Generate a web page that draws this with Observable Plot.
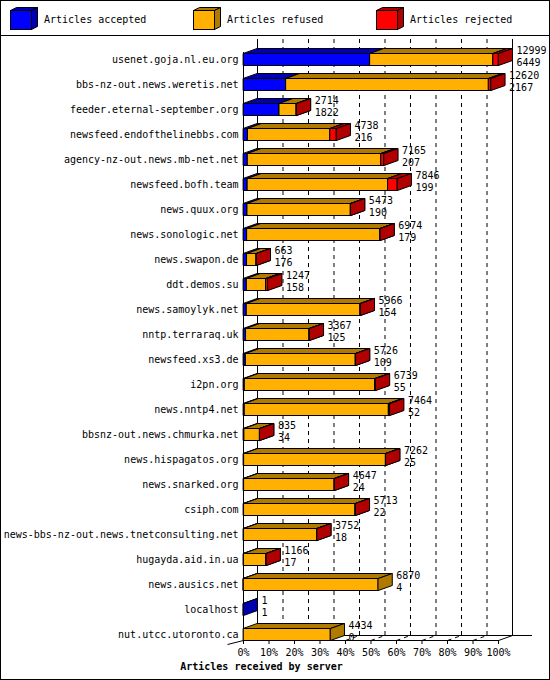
<!DOCTYPE html>
<html>
<head>
<meta charset="utf-8">
<script src="https://cdn.jsdelivr.net/npm/d3@7"></script>
<script src="https://cdn.jsdelivr.net/npm/@observablehq/plot@0.6"></script>
<style>
  html, body { margin: 0; padding: 0; background: #fff; }
  #page { position: relative; width: 550px; height: 680px; overflow: hidden; background: #fff;
          font-family: "DejaVu Sans Mono", monospace; font-size: 10px; }
  #frame { position: absolute; left: 0; top: 0; width: 550px; height: 680px; box-sizing: border-box;
           border: 1px solid #000; pointer-events: none; z-index: 5; }
  #legend { position: absolute; left: 0; top: 0; width: 550px; height: 35px; border-bottom: 1px solid #000; }
  .item { position: absolute; top: 0; height: 35px; }
  .item svg { position: absolute; top: 6px; }
  .item span { position: absolute; top: 14px; line-height: 12px; white-space: nowrap; color: #000; }
  #chart { position: absolute; left: 0; top: 36px; }
</style>
</head>
<body>
<div id="page">
  <div id="legend"></div>
  <div id="chart"></div>
  <div id="frame"></div>
</div>
<script>
// ---- data ----
const hosts = [
  "usenet.goja.nl.eu.org", "bbs-nz-out.news.weretis.net", "feeder.eternal-september.org",
  "newsfeed.endofthelinebbs.com", "agency-nz-out.news.mb-net.net", "newsfeed.bofh.team",
  "news.quux.org", "news.sonologic.net", "news.swapon.de", "ddt.demos.su",
  "news.samoylyk.net", "nntp.terraraq.uk", "newsfeed.xs3.de", "i2pn.org", "news.nntp4.net",
  "bbsnz-out.news.chmurka.net", "news.hispagatos.org", "news.snarked.org", "csiph.com",
  "news-bbs-nz-out.news.tnetconsulting.net", "hugayda.aid.in.ua", "news.ausics.net",
  "localhost", "nut.utcc.utoronto.ca"
];
const offered  = [12999, 12620, 2714, 4738, 7165, 7846, 5473, 6974, 663, 1247, 5966, 3367, 5726, 6739, 7464, 835, 7262, 4647, 5713, 3752, 1166, 6870, 1, 4434];
const accepted = [6449, 2167, 1822, 216, 207, 199, 190, 179, 176, 158, 154, 125, 109, 55, 52, 34, 25, 24, 22, 18, 17, 4, 1, 0];
const refused  = [6280, 10333, 877, 4202, 6808, 7167, 5273, 6785, 482, 989, 5802, 3232, 5607, 6654, 7352, 796, 7227, 4613, 5681, 3724, 1144, 6866, 0, 4434];
const rejected = [270, 120, 15, 320, 150, 480, 10, 10, 5, 100, 10, 10, 10, 30, 60, 5, 10, 10, 10, 10, 5, 0, 0, 0];
const seriesNames = ["Articles accepted", "Articles refused", "Articles rejected"];
const tickValues = [0, 10, 20, 30, 40, 50, 60, 70, 80, 90, 100];
const tickLabels = ["0%", "10%", "20%", "30%", "40%", "50%", "60%", "70%", "80%", "90%", "100%"];
const axisTitle = "Articles received by server";

// ---- styles / geometry ----
const front = ["#0000ff", "#ffb000", "#ff0000"];
const shade = ["#0000b0", "#b07900", "#b00000"];
const FONT = "DejaVu Sans Mono";
const TOP = 36;                 // svg offset below legend
const X0 = 243, X100 = 498;     // page px of 0% / 100%
const Y0 = 59, ROWH = 25;       // page px of first row center, row pitch
const DXP = 14, DYP = 5, HP = 6;
const pct = p => (p - X0) / (X100 - X0) * 100;   // page px -> percent
const row = p => (p - Y0) / ROWH;                // page px -> row
const dX = DXP / (X100 - X0) * 100, dY = DYP / ROWH, hH = HP / ROWH;
const maxV = d3.max(offered);

// ---- legend ----
const legend = document.getElementById("legend");
const legendX = [10, 193, 376];
seriesNames.forEach((name, k) => {
  const it = document.createElement("div");
  it.className = "item";
  it.style.left = (legendX[k] - 1) + "px";
  it.innerHTML =
    `<svg width="32" height="26" style="left:0">
      <polygon points="1.5,4.5 22.5,4.5 28.5,1.5 7.5,1.5" fill="${shade[k]}" stroke="#000"/>
      <polygon points="22.5,4.5 28.5,1.5 28.5,20.5 22.5,23.5" fill="${shade[k]}" stroke="#000"/>
      <rect x="1.5" y="4.5" width="21" height="19" fill="${front[k]}" stroke="#000"/>
    </svg><span style="left:35px">${name}</span>`;
  legend.appendChild(it);
});

// ---- polygons for 3D bars ----
const polys = [];
function push(id, fill, pts) { pts.forEach(([x, y]) => polys.push({id, fill, x, y})); }
hosts.forEach((h, i) => {
  const vals = [accepted[i], refused[i], rejected[i]];
  let cum = 0;
  vals.forEach((v, k) => {
    if (v <= 0) return;
    const a = cum / maxV * 100, b = (cum + v) / maxV * 100;
    cum += v;
    const t = i - hH, bo = i + hH;
    push(`${i}-${k}-f`, front[k], [[a, bo], [b, bo], [b, t], [a, t]]);
    push(`${i}-${k}-t`, shade[k], [[a, t], [b, t], [b + dX, t - dY], [a + dX, t - dY]]);
    push(`${i}-${k}-r`, shade[k], [[b, t], [b + dX, t - dY], [b + dX, bo - dY], [b, bo]]);
  });
});

const rows = hosts.map((h, i) => ({h, i, tot: offered[i] / maxV * 100, off: offered[i], acc: accepted[i]}));
const grid = tickValues.filter(v => v > 0 && v < 100);

const chart = Plot.plot({
  width: 550,
  height: 644,
  x: {domain: [0, 100], range: [X0, X100], axis: null},
  y: {domain: [0, 23], range: [Y0 - TOP, Y0 - TOP + 23 * ROWH], axis: null},
  color: {type: "identity"},
  style: {fontFamily: FONT, fontSize: "10px", background: "transparent", overflow: "visible"},
  marks: [
    // back wall grid (dashed)
    Plot.ruleX(grid, {x: d => d, dx: DXP, y1: row(39), y2: row(635), stroke: "#000", strokeDasharray: "4,4"}),
    // back wall solid verticals
    Plot.ruleX([0, 100], {x: d => d, dx: DXP, y1: row(39), y2: row(635), stroke: "#000"}),
    // floor back line
    Plot.ruleY([row(635)], {y: d => d, x1: pct(257), x2: pct(532), stroke: "#000"}),
    // floor diagonals
    Plot.link(grid, {x1: d => d, y1: row(640), x2: d => d + dX, y2: row(635), stroke: "#000", strokeDasharray: "4,4"}),
    Plot.link([100], {x1: d => d, y1: row(640), x2: d => d + dX, y2: row(635), stroke: "#000"}),
    Plot.link([0], {x1: pct(227), y1: row(644), x2: d => d, y2: row(640), stroke: "#000"}),
    // front axis
    Plot.ruleY([row(640)], {y: d => d, x1: 0, x2: 100, stroke: "#000"}),
    Plot.ruleX([0], {x: d => d, y1: row(52), y2: row(644), stroke: "#000"}),
    Plot.ruleX(tickValues, {x: d => d, y1: row(640), y2: row(644), stroke: "#000"}),
    // 3D bars
    Plot.line(polys, {x: "x", y: "y", z: "id", fill: "fill", stroke: "#000", strokeWidth: 1,
      curve: "linear-closed", strokeLinejoin: "miter"}),
    // host labels
    Plot.text(rows, {x: 0, y: "i", text: "h", dx: -5, textAnchor: "end", fontFamily: FONT, fontSize: 10, fill: "#000"}),
    // values
    Plot.text(rows, {x: "tot", y: "i", text: d => String(d.off), dx: DXP + 4, dy: -9, textAnchor: "start", fontFamily: FONT, fontSize: 10, fill: "#000"}),
    Plot.text(rows, {x: "tot", y: "i", text: d => String(d.acc), dx: DXP + 4, dy: 3, textAnchor: "start", fontFamily: FONT, fontSize: 10, fill: "#000"}),
    // tick labels
    Plot.text(tickValues, {x: d => d, y: row(652), text: (d, j) => tickLabels[j], textAnchor: "middle", fontFamily: FONT, fontSize: 10, fill: "#000"}),
    // axis title
    Plot.text([axisTitle], {x: pct(261), y: row(666), text: d => d, textAnchor: "middle", fontFamily: FONT, fontSize: 10, fontWeight: "bold", fill: "#000"})
  ]
});
document.getElementById("chart").appendChild(chart);
</script>
</body>
</html>
